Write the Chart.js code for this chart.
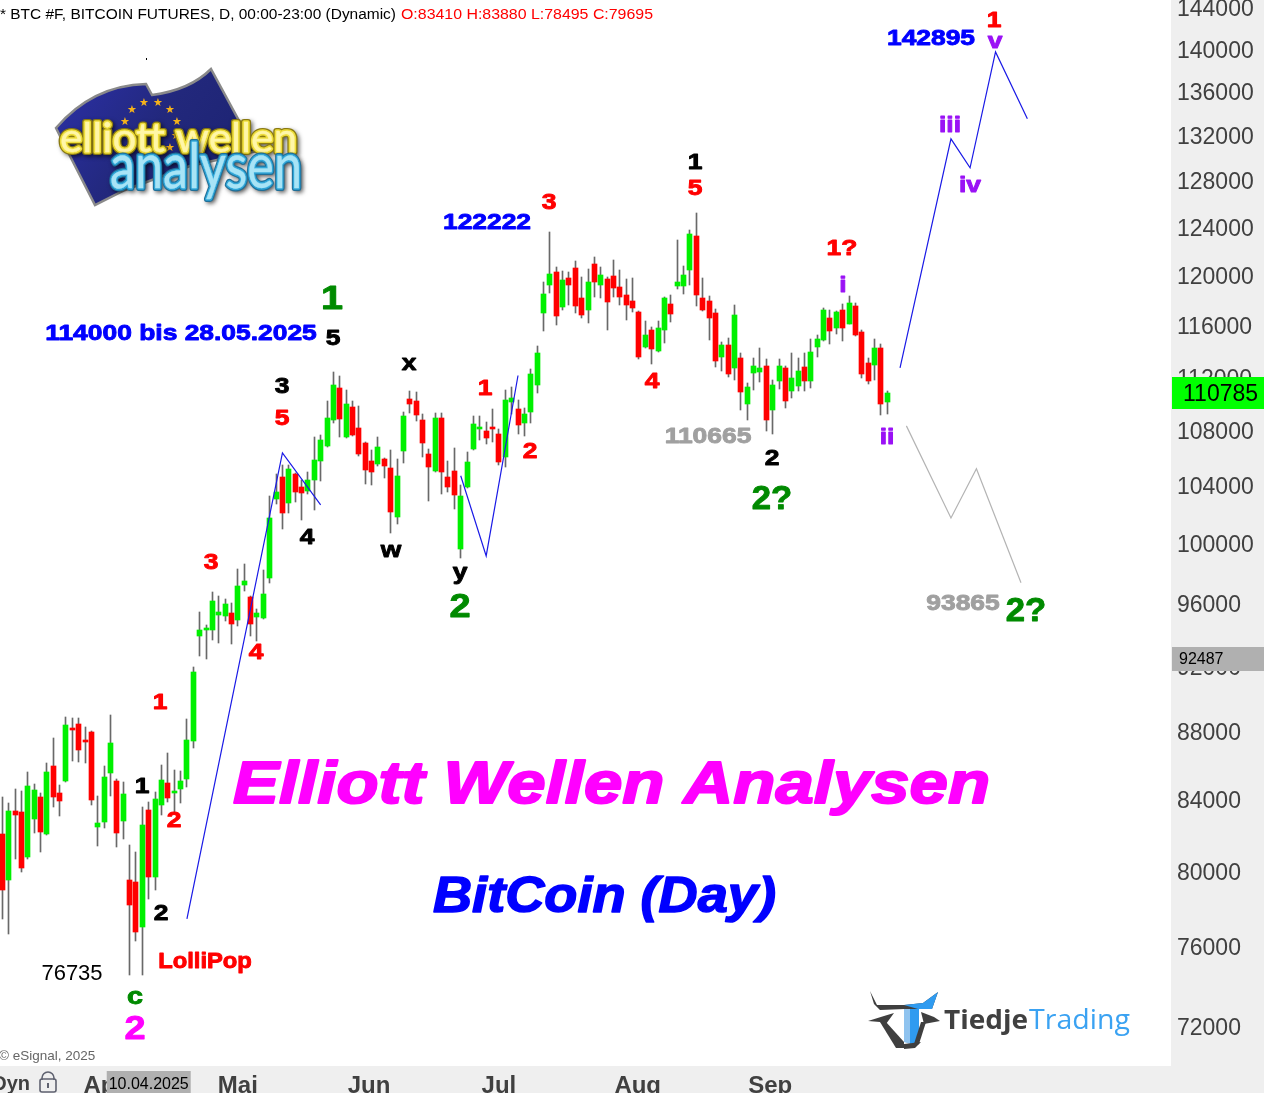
<!DOCTYPE html>
<html>
<head>
<meta charset="utf-8">
<title>BTC Elliott Wellen</title>
<script src="https://cdn.jsdelivr.net/npm/chart.js@4/dist/chart.umd.min.js"></script>
<style>
html, body { margin: 0; padding: 0; background: #fff; overflow: hidden; }
#wrap { width: 1264px; height: 1093px; }
</style>
</head>
<body>
<div id="wrap"><canvas id="btcChart" width="1264" height="1093"></canvas></div>
<script>
// daily bars, first bar = index 0, 10.04.2025 = index 23
const barOpen = [
  82070,79550,83370,83310,80790,82920,84160,82070,85960,84390,
  85090,88220,88460,87490,87980,82470,82750,85560,85090,82800,
  79550,79440,77040,83410,79710,83700,84970,84390,84620,85210,
  87430,93920,94300,94300,95270,95200,95400,94950,97240,96430,
  95140,95080,97700,103090,104660,102810,104870,103940,103660,104440,
  105800,106880,108800,111190,107540,109760,108210,107100,105800,105580,
  105940,105300,101840,106510,110350,110200,108800,106300,105090,108940,
  104660,105090,99640,103940,106660,108130,107980,108280,107760,106080,
  110120,109610,108580,109390,111420,117010,119270,120330,117490,119840,
  120660,118200,117250,120990,119270,119760,120000,119100,118450,117960,
  117090,114330,115670,114010,115670,117730,119190,119190,120490,123310,
  118200,117960,117010,113560,114490,112720,113480,109980,112330,112410,
  112870,109530,111720,112720,110960,111340,112790,111720,114330,114880,
  116620,115830,117250,116150,117570,115510,113100,112940,114250,110120
];
const barHigh = [
  84180,83800,84620,84510,85610,84920,84390,86140,87610,84860,
  88880,88820,88820,88280,88040,84220,85960,89000,85210,85030,
  81460,81070,83610,83880,84450,86020,86720,85730,85670,88760,
  91960,95460,94630,96770,96500,96300,96040,98300,98640,96500,
  95660,98240,103320,104870,105510,105510,104900,104440,105010,107540,
  107690,110200,112410,112100,111040,110200,109830,107150,106580,107540,
  105990,106580,105940,109390,110960,110880,109240,106660,109310,109310,
  105800,106730,104090,106440,109090,109090,108650,109610,108130,111040,
  111260,110270,109680,112640,114410,119510,123650,120740,120410,120330,
  121230,119920,120580,121560,120740,119920,121310,120490,119760,119840,
  117170,116380,115910,116380,118290,118450,122970,120820,123820,125260,
  119840,118370,117330,114720,115040,117650,113860,111570,113480,114250,
  113400,111800,113400,112870,113860,113480,113860,114960,115280,117410,
  117250,117170,117730,118370,117800,115670,113480,114960,114560,110960
];
const barLow = [
  77460,76670,80690,79980,80690,82130,81070,82020,83590,83090,
  85030,86250,86190,86140,83700,81400,82410,84220,81340,81790,
  74560,76300,74560,78495,79000,83140,83870,83200,83820,84740,
  87010,92640,92450,93660,93470,94880,93400,94560,96840,93920,
  93590,95010,97370,102740,101020,102120,102880,101640,103440,102330,
  104370,106800,108580,107540,107470,107620,106150,104160,104090,105440,
  104590,100740,101360,105660,109310,108720,106080,102950,105010,103440,
  103590,102390,99030,103870,106580,107320,107030,107170,105510,105370,
  109240,107760,107620,108580,110810,115590,118610,116070,117250,117650,
  117010,116620,116220,118290,118200,115670,118290,117650,116460,117090,
  113400,114250,113020,113940,114640,116300,118940,118530,119270,117570,
  117170,114880,112790,112490,112030,111800,109530,108800,111040,111650,
  107980,107760,111110,109680,110430,110960,110960,111190,113560,114800,
  114560,115350,114800,116100,115200,111950,111490,111800,109170,109240
];
const barClose = [
  79000,83370,83140,80200,84800,84570,82190,85610,84160,83930,
  88400,88100,86890,87370,83980,82690,85320,87310,82130,84330,
  78200,76780,82580,79695,84040,85150,84100,84510,85090,87490,
  91640,94300,94430,96170,95460,95980,94690,97170,97500,94690,
  95400,96640,101770,103590,102120,105230,103590,103520,104440,105870,
  107320,108940,111420,108870,109980,107690,106300,105160,105010,106800,
  105440,102190,104730,109090,109980,109170,107100,105370,108940,105010,
  103940,103370,103300,105730,108500,108280,107470,108130,105730,110270,
  110430,108430,109240,112260,113860,118530,120160,116780,119680,119270,
  117570,116860,119510,119510,120080,117880,119020,118290,117650,117410,
  113560,115280,114170,115830,118200,116940,119510,120080,123480,118450,
  117250,116620,113250,114490,112260,116860,110880,111260,112870,112720,
  108800,111420,112870,110200,111950,112490,111720,113940,114960,117250,
  115590,117090,115830,117800,115280,112260,111720,114250,109980,110785
];

// wave sketches drawn on the chart: bar index + price
const waveAIdx = [29, 44, 50];
const waveAPrice = [77460, 106370, 102670];
const waveBIdx = [72, 76, 81];
const waveBPrice = [104730, 99170, 112130];
const forecastUpIdx = [141, 149, 152, 156, 161];
const forecastUpPrice = [112720, 131730, 129160, 139760, 133540];
const forecastDownIdx = [142, 149, 153, 160];
const forecastDownPrice = [108350, 101770, 105230, 97370];

const priceTicks = [144000,140000,136000,132000,128000,124000,120000,116000,112000,108000,104000,100000,96000,92000,88000,84000,80000,76000,72000];
const monthLabels = ['Apr','Mai','Jun','Jul','Aug','Sep'];
const monthIdx = [16, 37, 57.6, 78, 99.8, 120.6];

const lastPrice = 110785;
const markerPrice = 92487;
const markerDate = '10.04.2025';

const SANS = '"Liberation Sans", Arial, sans-serif';
const GREEN = '#00f000';
const RED = '#ff0000';
const WAVE = '#9a12f5';
const DKGREEN = '#008a00';

// [text, centre x, centre y, colour, font px, x stretch]
const notes = [
  ['1', 994, 20, RED, 22, 1.2], ['v', 995, 41, WAVE, 22, 1.2],
  ['142895', 931, 38, '#0000ff', 22, 1.2], ['122222', 487, 222, '#0000ff', 22, 1.2],
  ['iii', 950, 125, WAVE, 22, 1.2], ['iv', 970, 185, WAVE, 22, 1.2],
  ['ii', 887, 437, WAVE, 22, 1.2], ['i', 843, 285, WAVE, 22, 1.2],
  ['1?', 842, 248, RED, 22, 1.2], ['1', 695, 162, '#000', 22, 1.2], ['5', 695, 188, RED, 22, 1.2],
  ['3', 549, 202, RED, 22, 1.2], ['1', 332, 299, DKGREEN, 33, 1.2], ['5', 333, 338, '#000', 22, 1.2],
  ['114000 bis 28.05.2025', 181, 333, '#0000ff', 22, 1.2],
  ['x', 409, 363, '#000', 22, 1.2], ['3', 282, 386, '#000', 22, 1.2], ['5', 282, 418, RED, 22, 1.2],
  ['1', 485, 388, RED, 22, 1.2], ['2', 530, 451, RED, 22, 1.2], ['4', 652, 381, RED, 22, 1.2],
  ['110665', 708, 436, '#a0a0a0', 22, 1.2], ['2', 772, 458, '#000', 22, 1.2],
  ['2?', 772, 499, DKGREEN, 33, 1.05], ['4', 307, 537, '#000', 22, 1.2], ['w', 391, 550, '#000', 22, 1.2],
  ['y', 460, 572, '#000', 22, 1.2], ['2', 460, 607, DKGREEN, 33, 1.15], ['3', 211, 562, RED, 22, 1.2],
  ['4', 256, 652, RED, 22, 1.2], ['1', 160, 702, RED, 22, 1.2], ['1', 142, 786, '#000', 22, 1.2],
  ['2', 174, 820, RED, 22, 1.2], ['2', 161, 913, '#000', 22, 1.2], ['LolliPop', 205, 961, RED, 22, 1.08],
  ['c', 135, 996, DKGREEN, 24, 1.2], ['2', 135, 1029, '#ff00ff', 33, 1.15],
  ['93865', 963, 603, '#a0a0a0', 22, 1.2], ['2?', 1026, 611, DKGREEN, 33, 1.05]
];

function stretched(ctx, text, cx, cy, color, font, sx, thick) {
  ctx.save();
  ctx.translate(cx, cy);
  ctx.scale(sx, 1);
  ctx.font = font;
  ctx.textAlign = 'center';
  ctx.textBaseline = 'middle';
  ctx.fillStyle = color;
  ctx.fillText(text, 0, 0);
  if (thick) {
    ctx.strokeStyle = color;
    ctx.lineWidth = thick;
    ctx.lineJoin = 'round';
    ctx.strokeText(text, 0, 0);
  }
  ctx.restore();
}

function fitted(ctx, text, x0, x1, cy, color, font, thick) {
  ctx.save();
  ctx.font = font;
  const sx = (x1 - x0) / ctx.measureText(text).width;
  ctx.restore();
  stretched(ctx, text, (x0 + x1) / 2, cy, color, font, sx, thick);
}

function poly(ctx, pts, fill) {
  ctx.beginPath();
  pts.forEach((p, i) => i ? ctx.lineTo(p[0], p[1]) : ctx.moveTo(p[0], p[1]));
  ctx.closePath();
  ctx.fillStyle = fill;
  ctx.fill();
}

function drawFlagLogo(ctx) {
  ctx.save();
  ctx.fillStyle = '#000';
  ctx.fillRect(146, 58, 1, 2);
  const grad = ctx.createLinearGradient(60, 70, 240, 200);
  grad.addColorStop(0, '#2c30a8');
  grad.addColorStop(0.5, '#22287c');
  grad.addColorStop(1, '#1c2270');
  ctx.beginPath();
  ctx.moveTo(56, 128);
  ctx.bezierCurveTo(80, 100, 110, 85, 146, 84);
  ctx.lineTo(152, 95);
  ctx.bezierCurveTo(175, 92, 195, 85, 211, 69);
  ctx.lineTo(243, 128);
  ctx.lineTo(262, 150);
  ctx.lineTo(190, 166);
  ctx.lineTo(125, 190);
  ctx.lineTo(95, 205);
  ctx.lineTo(72, 160);
  ctx.closePath();
  ctx.fillStyle = grad;
  ctx.strokeStyle = '#8a8a8a';
  ctx.lineWidth = 2.5;
  ctx.fill();
  ctx.stroke();
  ctx.fillStyle = '#f5b21a';
  ctx.font = '11px "DejaVu Sans", ' + SANS;
  ctx.textAlign = 'center';
  ctx.textBaseline = 'middle';
  [[144, 103], [158, 103], [132, 110], [170, 110], [125, 122], [177, 122], [176, 136], [130, 147], [170, 148]].forEach(s => ctx.fillText('★', s[0], s[1]));
  const thin = '400 40px Lato, ' + SANS;
  ctx.save();
  ctx.shadowColor = 'rgba(0,0,0,0.5)';
  ctx.shadowBlur = 4;
  ctx.shadowOffsetX = 2;
  ctx.shadowOffsetY = 2;
  fitted(ctx, 'elliott wellen', 60, 297, 139, '#8a7a10', thin, 6);
  ctx.restore();
  fitted(ctx, 'elliott wellen', 60, 297, 139, '#eedd3a', thin, 3.5);
  fitted(ctx, 'elliott wellen', 60, 297, 139, '#fff6a8', thin, 0.3);
  const big = '400 62px Lato, ' + SANS;
  ctx.save();
  ctx.shadowColor = 'rgba(0,0,0,0.5)';
  ctx.shadowBlur = 4;
  ctx.shadowOffsetX = 2;
  ctx.shadowOffsetY = 2;
  fitted(ctx, 'analysen', 110, 302, 168, '#1f6f98', big, 6);
  ctx.restore();
  fitted(ctx, 'analysen', 110, 302, 168, '#2fa6d8', big, 3.5);
  fitted(ctx, 'analysen', 110, 302, 168, '#a8e4f6', big, 0.3);
  ctx.restore();
}

function drawBullLogo(ctx) {
  const dark = '#3f3f3f', blue = '#2f9bf0';
  poly(ctx, [[870, 991], [877, 1005], [905, 1005], [905, 1009], [880, 1010], [874, 1004]], dark);
  poly(ctx, [[904, 1005], [923, 1003], [938, 992], [932, 1009], [904, 1009]], dark);
  poly(ctx, [[904, 1005], [923, 1003], [938, 992], [932, 1009], [918, 1009]], blue);
  poly(ctx, [[904, 1009], [910, 1009], [910, 1044], [904, 1042]], '#8fc3ef');
  poly(ctx, [[910, 1009], [919, 1009], [919, 1042], [910, 1044]], blue);
  poly(ctx, [[868, 1021], [884, 1016], [894, 1013], [886, 1024], [880, 1022]], dark);
  poly(ctx, [[880, 1022], [886, 1022], [904, 1042], [904, 1048], [896, 1048]], dark);
  poly(ctx, [[904, 1044], [921, 1042], [915, 1048], [904, 1049]], dark);
  poly(ctx, [[921, 1012], [934, 1017], [940, 1021], [924, 1024]], dark);
  poly(ctx, [[921, 1022], [926, 1022], [919, 1044], [913, 1047]], dark);
  fitted(ctx, 'Tiedje', 944, 1028, 1021, '#404040', '700 27px "Open Sans", ' + SANS, 0);
  fitted(ctx, 'Trading', 1029, 1130, 1021, '#3aa2f2', '400 27px "Open Sans", ' + SANS, 0);
}

function drawLock(ctx) {
  ctx.save();
  ctx.strokeStyle = '#5f6270';
  ctx.lineWidth = 1.6;
  ctx.beginPath();
  ctx.roundRect(40, 1079, 16, 13, 2);
  ctx.stroke();
  ctx.beginPath();
  ctx.arc(48, 1078, 6, Math.PI, 0);
  ctx.moveTo(42, 1078); ctx.lineTo(42, 1080);
  ctx.moveTo(54, 1078); ctx.lineTo(54, 1080);
  ctx.stroke();
  ctx.fillStyle = '#5f6270';
  ctx.fillRect(47, 1083, 2, 5);
  ctx.restore();
}

// bars on whole pixels like the original, no blurred wicks
const snapBars = {
  id: 'snapBars',
  beforeDatasetsDraw(chart) {
    chart.getSortedVisibleDatasetMetas().forEach(meta => {
      if (meta.type !== 'bar') return;
      meta.data.forEach(el => {
        el.x = Math.round(el.x - 0.5) + 0.5;
        let top = Math.round(Math.min(el.y, el.base));
        let bottom = Math.round(Math.max(el.y, el.base));
        if (bottom - top < 2) bottom = top + 2;
        el.y = top;
        el.base = bottom;
      });
    });
  }
};

const panels = {
  id: 'panels',
  beforeDraw(chart) {
    const { ctx, chartArea, scales } = chart;
    ctx.save();
    ctx.fillStyle = '#fff';
    ctx.fillRect(0, 0, chart.width, chart.height);
    ctx.fillStyle = '#efefef';
    ctx.fillRect(chartArea.right, 0, chart.width - chartArea.right, chart.height);
    ctx.fillRect(0, chartArea.bottom, chart.width, chart.height - chartArea.bottom);
    ctx.restore();
    // price labels sit 2px under their level in the original
    if (!scales.y.labelsMoved) {
      scales.y.getLabelItems(chartArea).forEach(item => { item.options.translation[1] += 2; });
      scales.y.labelsMoved = true;
    }
  }
};

const overlay = {
  id: 'overlay',
  afterDraw(chart) {
    const { ctx, scales } = chart;
    ctx.save();
    // header
    const headFont = '15.5px ' + SANS;
    fitted(ctx, '* BTC #F, BITCOIN FUTURES, D, 00:00-23:00 (Dynamic)', 0, 396, 15, '#000', headFont, 0);
    fitted(ctx, 'O:83410 H:83880 L:78495 C:79695', 401, 653, 15, RED, headFont, 0);

    drawFlagLogo(ctx);
    drawBullLogo(ctx);

    notes.forEach(n => stretched(ctx, n[0], n[1], n[2] + 1, n[3], 'bold ' + n[4] + 'px ' + SANS, n[5], 0.9));
    stretched(ctx, '76735', 72, 974, '#000', '22px ' + SANS, 1, 0);

    fitted(ctx, 'Elliott Wellen Analysen', 233, 990, 786, '#ff00ff', 'italic bold 60px ' + SANS, 2);
    fitted(ctx, 'BitCoin (Day)', 433, 776, 898, '#0000ff', 'italic bold 50px ' + SANS, 1.5);

    ctx.textBaseline = 'middle';
    ctx.font = '13.5px ' + SANS;
    ctx.textAlign = 'left';
    ctx.fillStyle = '#666';
    ctx.fillText('© eSignal, 2025', -1, 1056);

    // last price and marker tags sit over the axis
    const tagY = scales.y.getPixelForValue(lastPrice);
    ctx.fillStyle = '#00ff00';
    ctx.fillRect(1172, Math.round(tagY) - 16, 92, 32);
    ctx.fillStyle = '#000';
    ctx.font = '23px ' + SANS;
    ctx.fillText(String(lastPrice), 1183, Math.round(tagY) + 2);
    const markY = scales.y.getPixelForValue(markerPrice);
    ctx.fillStyle = '#b0b0b0';
    ctx.fillRect(1172, Math.round(markY) - 11, 92, 24);
    ctx.fillStyle = '#000';
    ctx.font = '16px ' + SANS;
    ctx.fillText(String(markerPrice), 1179, Math.round(markY) + 2);

    // bottom strip: date of the crosshair bar, mode and lock
    const dateX = scales.x.getPixelForValue(23);
    ctx.fillStyle = '#b0b0b0';
    ctx.fillRect(dateX - 42, 1071, 84, 22);
    ctx.fillStyle = '#000';
    ctx.font = '16px ' + SANS;
    ctx.textAlign = 'center';
    ctx.fillText(markerDate, dateX, 1085);
    ctx.font = 'bold 20px ' + SANS;
    ctx.textAlign = 'right';
    ctx.fillStyle = '#404040';
    ctx.fillText('Dyn', 30, 1084);
    drawLock(ctx);
    ctx.restore();
  }
};

const wickData = barHigh.map((h, i) => ({ x: i, y: [barLow[i], h] }));
const bodyData = barOpen.map((o, i) => ({ x: i, y: [o, barClose[i]] }));
const bodyColors = barOpen.map((o, i) => (barClose[i] >= o ? GREEN : RED));

function pathData(idx, price) {
  return idx.map((x, i) => ({ x: x, y: price[i] }));
}
function sketchLine(idx, price, color, width) {
  return {
    type: 'line', data: pathData(idx, price), borderColor: color, borderWidth: width,
    pointRadius: 0, tension: 0, fill: false, order: 1, parsing: { xAxisKey: 'x', yAxisKey: 'y' }
  };
}

new Chart(document.getElementById('btcChart'), {
  type: 'bar',
  data: {
    datasets: [
      { data: wickData, backgroundColor: '#696969', barThickness: 1, grouped: false, order: 3 },
      { data: bodyData, backgroundColor: bodyColors, barThickness: 5, grouped: false, order: 2 },
      sketchLine(waveAIdx, waveAPrice, '#1a1ae6', 1.2),
      sketchLine(waveBIdx, waveBPrice, '#1a1ae6', 1.2),
      sketchLine(forecastUpIdx, forecastUpPrice, '#1a1ae6', 1.2),
      sketchLine(forecastDownIdx, forecastDownPrice, '#b4b4b4', 1.2)
    ]
  },
  options: {
    responsive: false,
    animation: false,
    layout: { padding: 0, autoPadding: false },
    plugins: { legend: { display: false }, tooltip: { enabled: false } },
    scales: {
      x: {
        type: 'linear',
        bounds: 'data',
        min: -0.36,
        max: 183.56,
        offset: false,
        grid: { display: false, drawTicks: false },
        border: { display: false },
        afterBuildTicks(scale) { scale.ticks = monthIdx.map(v => ({ value: v })); },
        afterFit(scale) { scale.height = 27; scale.paddingLeft = 0; scale.paddingRight = 0; },
        ticks: {
          autoSkip: false, maxRotation: 0, padding: 6,
          color: '#404040',
          font: { family: SANS, size: 24, weight: 'bold' },
          callback: (v) => monthLabels[monthIdx.indexOf(v)]
        }
      },
      y: {
        type: 'logarithmic',
        position: 'right',
        bounds: 'data',
        min: 70079,
        max: 144786,
        grid: { display: false, drawTicks: false },
        border: { display: false },
        afterBuildTicks(scale) { scale.ticks = priceTicks.map(v => ({ value: v })); },
        afterFit(scale) { scale.width = 93; scale.paddingTop = 0; scale.paddingBottom = 0; },
        ticks: {
          autoSkip: false, padding: 6,
          color: '#404040',
          font: { family: SANS, size: 23 },
          callback: (v) => String(v)
        }
      }
    }
  },
  plugins: [panels, snapBars, overlay]
});
</script>
</body>
</html>
